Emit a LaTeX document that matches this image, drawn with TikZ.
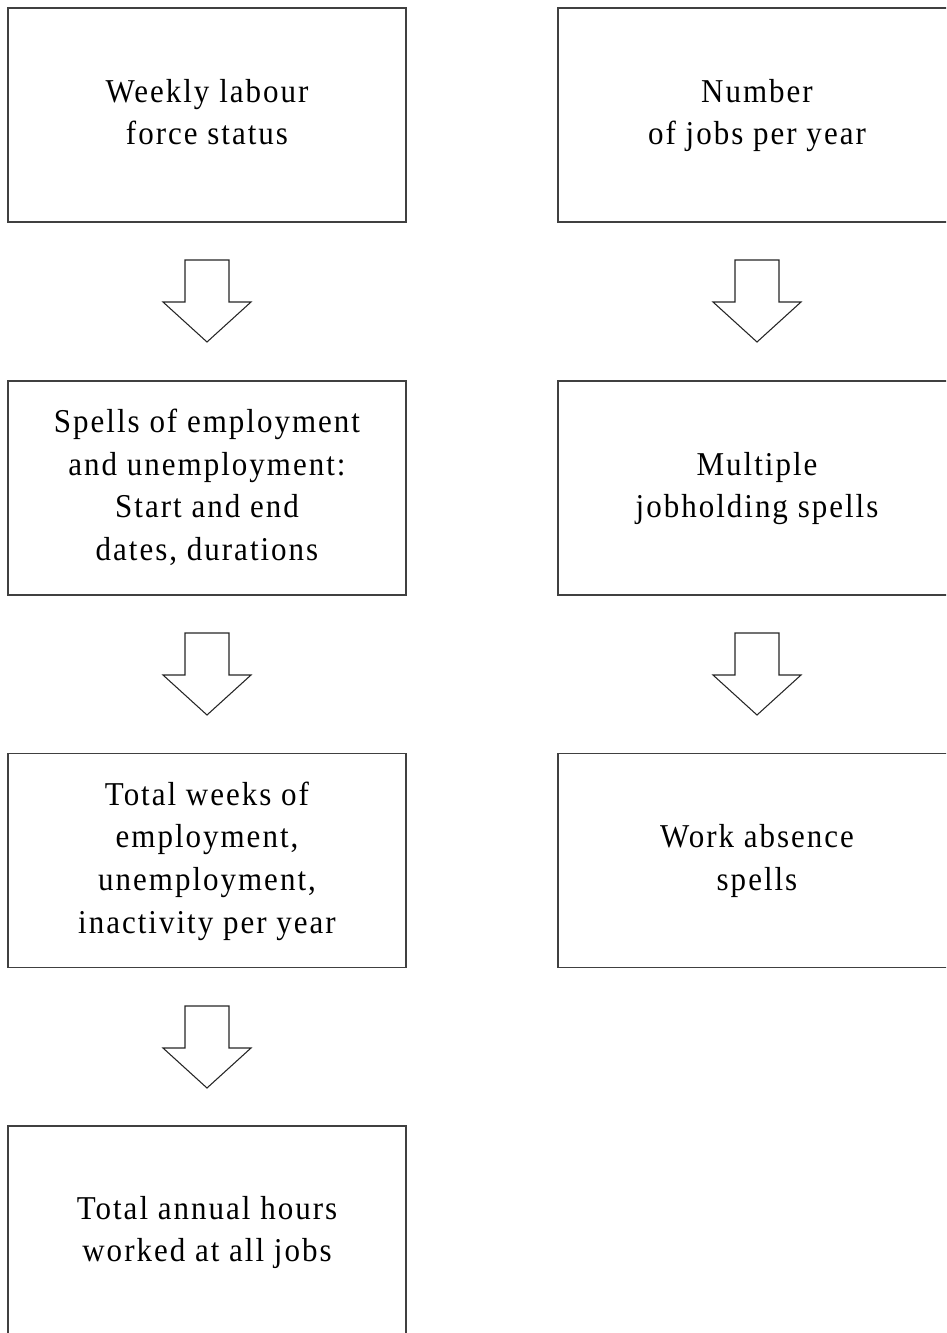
\documentclass[tikz,border=0pt]{standalone}
\usepackage{fontspec}
\setmainfont{Liberation Serif}[LetterSpace=6,FakeStretch=0.93]
\begin{document}
\begin{tikzpicture}[x=0.75pt,y=-0.75pt,
  stagebox/.style={draw=black!75,line width=1.4pt,minimum width=398*0.75pt,minimum height=214*0.75pt,
    align=center,inner sep=0pt,font=\fontsize{25}{32}\selectfont},
  stagetext/.style={align=center,inner sep=0pt,font=\fontsize{25}{32}\selectfont},
  downarrow/.style={draw=black!85,line width=0.8pt,fill=white,line join=miter}]
\useasboundingbox (0,0) rectangle (946,1333);
\begin{scope}
\clip (0,0) rectangle (946,1333);
% left column
\node[stagebox] (w) at (207,115) {\strut Weekly labour\\force status\strut};
\node[stagebox] (s) at (207,488) {\strut Spells of employment\\and unemployment:\\Start and end\\dates, durations\strut};
\node[stagebox] (t) at (207,860.5) {\strut Total weeks of\\employment,\\unemployment,\\inactivity per year\strut};
\node[stagebox,minimum height=230*0.75pt] (h) at (207,1241) {};
\node[stagetext] (ht) at (207,1232) {\strut Total annual hours\\worked at all jobs\strut};
% right column
\node[stagebox] (n) at (757,115) {\strut Number\\of jobs per year\strut};
\node[stagebox] (m) at (757,488) {\strut Multiple\\jobholding spells\strut};
\node[stagebox] (a) at (757,860.5) {\strut Work absence\\spells\strut};
\end{scope}
% hollow block arrows between stages
\newcommand{\blockarrow}[2]{%
  \draw[downarrow] (#1-22,#2) -- (#1+22,#2) -- (#1+22,#2+42) -- (#1+44,#2+42)
    -- (#1,#2+82) -- (#1-44,#2+42) -- (#1-22,#2+42) -- cycle;}
\blockarrow{207}{260}
\blockarrow{207}{633}
\blockarrow{207}{1006}
\blockarrow{757}{260}
\blockarrow{757}{633}
\end{tikzpicture}
\end{document}
